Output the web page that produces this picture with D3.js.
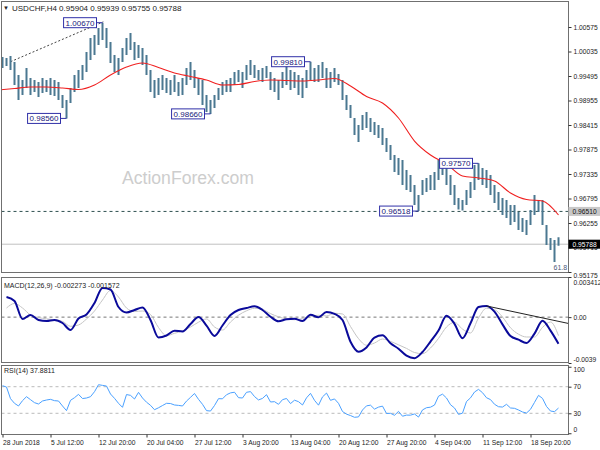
<!DOCTYPE html>
<html><head><meta charset="utf-8">
<script src="https://cdn.jsdelivr.net/npm/d3@7"></script>
<style>body{margin:0;background:#fff}svg{display:block}text{font-family:"Liberation Sans",Arial,sans-serif}</style>
</head><body><svg id="c" width="600" height="450"></svg>
<script>
// ---------- DATA ----------
const symbolTitle = "USDCHF,H4 0.95904 0.95939 0.95755 0.95788";
const macdTitle = "MACD(12,26,9) -0.002273 -0.001572";
const rsiTitle = "RSI(14) 37.8811";
const watermark = "ActionForex.com";

const highs = [
0.99914,0.99892,0.99936,0.99804,0.99517,0.99407,0.99671,0.9945,0.99407,0.99362,
0.9945,0.99407,0.9945,0.99407,0.99362,0.99076,0.98966,0.9923,0.99517,0.99627,
0.99738,1.00024,1.00333,1.00399,1.00553,1.0067,1.00553,1.00244,0.99958,0.99892,
1.00112,1.00333,1.00443,1.00244,1.00178,1.00112,0.99958,0.99627,0.99407,0.9945,
0.99517,0.9945,0.99407,0.99517,0.99362,0.9945,0.99671,0.99804,0.99627,0.9945,
0.99407,0.99076,0.98966,0.99076,0.9923,0.99362,0.99407,0.9945,0.99583,0.99627,
0.99583,0.99738,0.99848,0.99738,0.99627,0.99671,0.99716,0.99583,0.9945,0.99407,
0.99583,0.99738,0.99627,0.99583,0.99517,0.9945,0.99627,0.9981,0.99671,0.99738,
0.99804,0.99671,0.99583,0.99671,0.99539,0.99407,0.99076,0.98856,0.98569,0.98415,
0.98635,0.98702,0.98569,0.98481,0.98415,0.98349,0.98128,0.97974,0.97754,0.97688,
0.97644,0.97423,0.97313,0.97093,0.96872,0.97203,0.97247,0.97313,0.97379,0.97644,
0.97533,0.97467,0.97313,0.97093,0.96806,0.96762,0.96982,0.97159,0.97533,0.9757,
0.97467,0.97423,0.97313,0.97093,0.96938,0.96806,0.96762,0.96652,0.96652,0.96498,
0.96365,0.96321,0.96542,0.96872,0.96762,0.96762,0.96211,0.95925,0.9588,0.95939];

const lows = [
0.99671,0.99716,0.99627,0.99297,0.98966,0.99076,0.9923,0.99076,0.99142,0.99032,
0.9912,0.99142,0.99076,0.99054,0.98966,0.9879,0.9856,0.989,0.99142,0.9923,
0.99407,0.99583,0.99848,0.99958,1.00178,1.00289,1.00112,0.99782,0.99583,0.99517,
0.99804,0.99958,1.00068,0.99848,0.99892,0.99738,0.99517,0.99142,0.9901,0.99076,
0.99186,0.9912,0.99076,0.99142,0.99054,0.99076,0.99297,0.99407,0.9923,0.99076,
0.98856,0.987,0.9866,0.9879,0.98966,0.99076,0.99142,0.99142,0.99297,0.99362,
0.9923,0.99407,0.99517,0.9945,0.99407,0.99362,0.9945,0.99186,0.99142,0.98966,
0.9923,0.99297,0.99186,0.9923,0.99076,0.9901,0.9923,0.99407,0.99362,0.99362,
0.9945,0.9923,0.9923,0.99362,0.99297,0.98966,0.98746,0.98569,0.98195,0.9804,
0.98305,0.98349,0.98261,0.98195,0.98128,0.97974,0.9782,0.97644,0.97379,0.97313,
0.97093,0.96982,0.96938,0.96652,0.96518,0.96872,0.96938,0.96982,0.96982,0.97203,
0.97313,0.97093,0.96872,0.96652,0.9655,0.9653,0.96652,0.96806,0.96982,0.97203,
0.97093,0.97027,0.96872,0.96696,0.96542,0.96431,0.96365,0.96211,0.96277,0.96101,
0.96057,0.95991,0.96211,0.96431,0.96498,0.96211,0.9577,0.9566,0.95395,0.95755];

// moving average, one value every 4 bars starting at bar -1
const maValues = [0.99187,0.99219,0.99253,0.99253,0.99231,0.99197,0.99297,0.99517,0.99693,0.99782,
0.99682,0.99561,0.99484,0.99407,0.99297,0.99308,0.99374,0.99407,0.99396,0.99385,
0.99407,0.9944,0.99275,0.99043,0.989,0.98569,0.98062,0.97754,0.97555,0.97291,
0.97247,0.97181,0.96916,0.96773,0.9674,0.96431];

// MACD main & signal, one value every 2 bars (bars 1,3,...,139)
const macdMain = [0.001711,0.001371,-0.000159,0.000181,-0.000244,-0.000329,-0.000244,-0.000499,-0.001094,-0.000117,
0.000223,0.001201,0.002477,0.002349,0.000861,0.000394,0.000606,0.000819,-0.000244,-0.001732,
-0.001562,-0.001154,-0.001222,-0.000584,0.000011,-0.00072,-0.001604,-0.000712,0.000181,0.000606,
0.000776,0.000921,0.000606,0.000036,-0.000355,-0.000185,-0.000142,-0.000329,0.000206,-0.000015,
0.000436,0.000283,-0.000244,-0.002089,-0.002939,-0.002574,-0.00174,-0.001545,-0.002225,-0.002684,
-0.003279,-0.003492,-0.002965,-0.002081,-0.001137,0.000121,-0.000567,-0.001792,-0.000525,0.000861,
0.000955,0.00047,-0.000618,-0.001613,-0.001919,-0.0022,-0.0014,-0.000312,-0.001145,-0.002273];
const macdSignal = [0.000776,0.001159,0.000776,0.000181,-0.00004,-0.000142,-0.000236,-0.000363,-0.00078,-0.000669,
-0.000159,0.000521,0.001456,0.002264,0.001711,0.000776,0.000479,0.000521,0.000223,-0.000882,
-0.001579,-0.001375,-0.001179,-0.000839,-0.000431,-0.000159,-0.000839,-0.001094,-0.000414,0.000164,
0.000538,0.000751,0.000657,0.0003,0.000028,-0.000159,-0.000219,-0.000117,0.00007,0.000155,
0.000104,0.000325,0.000266,-0.000797,-0.001826,-0.002387,-0.0022,-0.00186,-0.002064,-0.002353,
-0.002659,-0.003007,-0.003109,-0.002625,-0.001809,-0.000839,-0.00044,-0.001018,-0.001349,-0.000074,
0.000759,0.00064,0.000011,-0.000907,-0.001451,-0.001689,-0.001689,-0.000873,-0.000414,-0.001572];

const rsiValues = [71.5,69.5,52,45,41,49,55,50.5,46,44,
48.5,50,51,49,48.5,41,34,49.5,53.5,58.5,
52.2,53,55,62.5,73,72,71,59,52.5,45,
39,58.2,57,51.5,61.5,53,46.7,42,35.4,38.3,
41.7,45,44.7,42.5,41.9,41,48.4,54,59.8,51,
43.5,34,33.4,41.7,52,51.8,57.9,60.7,61.7,53.5,
53,61.6,62.6,55.2,50.1,52.4,58,47,47.5,43.5,
50.5,52.3,44.6,49.7,47.5,42.5,53.2,60,49.5,42.2,
54.7,60.4,49.5,51.6,45,32.7,28.7,26.6,24,24.6,
35,41.2,42.2,36.3,39.3,40.8,29.7,30,27,32.9,
25.6,27.3,27.2,29,24.3,35.1,38.4,39.2,42.4,55.7,
58.8,53,42.9,38,28.4,30.2,47.7,53.2,62,66,
61,53.4,50.6,43.6,39.9,39.4,43.5,38,37.5,35,
32,30.4,36,46.4,57,52.4,40.3,33.4,32.5,37.88];

const timeLabels = ["28 Jun 2018","5 Jul 12:00","12 Jul 20:00","20 Jul 04:00","27 Jul 12:00","3 Aug 20:00",
"13 Aug 04:00","20 Aug 12:00","27 Aug 20:00","4 Sep 04:00","11 Sep 12:00","18 Sep 20:00"];
const timeLabelBars = [0,12,24,36,48,60,72,84,96,108,120,132];
const priceTicks = [1.00575,1.00035,0.99495,0.98955,0.98415,0.97875,0.97335,0.96795,0.96255,0.95715,0.95175];
const macdTicks = [0.003412,0,-0.0039];
const macdTickText = ["0.003412","0.00","-0.0039"];
const rsiTicks = [100,70,30,0];
const rsiLevels = [70,30];

const swingBars = [25,16,52,77,119,104];
const swingValues = [1.0067,0.9856,0.9866,0.9981,0.9757,0.96518];
const swingText = ["1.00670","0.98560","0.98660","0.99810","0.97570","0.96518"];

const levelValue = 0.9651, levelText = "0.96510";
const lastValue = 0.95788, lastText = "0.95788";
const trendBars = [2,25.2], trendValues = [0.9981,1.0069];
const macdTrendBars = [121,141.5], macdTrendValues = [0.00095,-0.00054];
const fibBar = 138, fibValue = 0.95395, fibText = "61.8";

// ---------- LAYOUT ----------
const svg = d3.select("#c");
const L = 1.5, R = 568.5;
const P = {main:[1.5,272.5], macd:[277.5,362.5], rsi:[365.5,434.5]};
const x = d3.scaleLinear().domain([0,139]).range([2.5,558.5]);
const yP = d3.scaleLinear().domain([0.95175,1.00575]).range([272,27]);
const yM = d3.scaleLinear().domain([-0.0039,0.003412]).range([363,277]);
const yR = d3.scaleLinear().domain([0,100]).range([433.25,366.75]);
const FS = 8, FSS = 7, FSA = 6.7;

const defs = svg.append("defs");
Object.entries(P).forEach(([k,[t,b]])=>{
  defs.append("clipPath").attr("id","clip-"+k).append("rect").attr("x",L).attr("y",t).attr("width",R-L).attr("height",b-t);
});

// watermark
svg.append("text").attr("x",122).attr("y",184).attr("font-size",17.6).attr("fill","#cdcdcd").text(watermark);

// ---------- MAIN PANEL ----------
const gm = svg.append("g").attr("clip-path","url(#clip-main)");
gm.append("line").attr("x1",L).attr("x2",R).attr("y1",yP(levelValue)).attr("y2",yP(levelValue))
  .attr("stroke","#2f5050").attr("stroke-dasharray","3,3");
gm.append("line").attr("x1",L).attr("x2",R).attr("y1",yP(lastValue)).attr("y2",yP(lastValue))
  .attr("stroke","#c0c0c0");
gm.append("line").attr("x1",x(trendBars[0])).attr("x2",x(trendBars[1]))
  .attr("y1",yP(trendValues[0])).attr("y2",yP(trendValues[1]))
  .attr("stroke","#444").attr("stroke-dasharray","2,2");

gm.selectAll("line.bar").data(highs).join("line").attr("class","bar")
  .attr("x1",(d,i)=>x(i)).attr("x2",(d,i)=>x(i))
  .attr("y1",d=>yP(d)).attr("y2",(d,i)=>yP(lows[i]))
  .attr("stroke","#4b7891").attr("stroke-width",2);

const maLine = d3.line().x(d=>x(d.i)).y(d=>yP(d.v)).curve(d3.curveMonotoneX);
gm.append("path").datum(maValues.map((v,k)=>({i:-1+4*k,v})))
  .attr("d",maLine).attr("fill","none").attr("stroke","#f02020").attr("stroke-width",1.1);

// swing labels
swingBars.forEach((b,k)=>{
  const yy = yP(swingValues[k]);
  const g = gm.append("g");
  const t = g.append("text").attr("font-size",FS).attr("fill","#20207a").attr("dominant-baseline","central").text(swingText[k]);
  const w = t.node().getComputedTextLength();
  const xr = x(b) - 6;
  t.attr("x",xr-w-2).attr("y",yy+0.5);
  g.insert("rect","text").attr("x",xr-w-4).attr("y",yy-5).attr("width",w+4).attr("height",10)
    .attr("fill","#fff").attr("stroke","#3030a8");
  g.append("line").attr("x1",xr).attr("x2",x(b)).attr("y1",yy).attr("y2",yy).attr("stroke","#3030a8");
});
svg.append("text").attr("x",x(fibBar)-1).attr("y",yP(fibValue)+7.5).attr("font-size",FSS).attr("fill","#4a5878").text(fibText);

// title
svg.append("text").attr("x",3).attr("y",10).attr("font-size",6).attr("fill","#222").text("\u25BC");
svg.append("text").attr("x",12).attr("y",10.5).attr("font-size",FS).attr("fill","#222").text(symbolTitle);

// ---------- MACD PANEL ----------
const gd = svg.append("g").attr("clip-path","url(#clip-macd)");
gd.append("line").attr("x1",L).attr("x2",R).attr("y1",yM(0)).attr("y2",yM(0))
  .attr("stroke","#777").attr("stroke-dasharray","3,3");
const mLine = d3.line().x(d=>x(d.i)).y(d=>yM(d.v)).curve(d3.curveMonotoneX);
gd.append("path").datum(macdSignal.map((v,k)=>({i:2*k+1,v}))).attr("d",mLine)
  .attr("fill","none").attr("stroke","#c4c4c4").attr("stroke-width",1);
gd.append("path").datum(macdMain.map((v,k)=>({i:2*k+1,v}))).attr("d",mLine)
  .attr("fill","none").attr("stroke","#0a0a9a").attr("stroke-width",2);
gd.append("line").attr("x1",x(macdTrendBars[0])).attr("x2",x(macdTrendBars[1]))
  .attr("y1",yM(macdTrendValues[0])).attr("y2",yM(macdTrendValues[1])).attr("stroke","#222");
svg.append("text").attr("x",4).attr("y",287.5).attr("font-size",FSS).attr("fill","#222").text(macdTitle);

// ---------- RSI PANEL ----------
const gr = svg.append("g").attr("clip-path","url(#clip-rsi)");
rsiLevels.forEach(v=>gr.append("line").attr("x1",L).attr("x2",R).attr("y1",yR(v)).attr("y2",yR(v))
  .attr("stroke","#bbb").attr("stroke-dasharray","3,3"));
gr.append("path").datum(rsiValues).attr("d",d3.line().x((d,i)=>x(i)).y(d=>yR(d)))
  .attr("fill","none").attr("stroke","#4aa0ff").attr("stroke-width",1);
svg.append("text").attr("x",4).attr("y",373).attr("font-size",FSS).attr("fill","#222").text(rsiTitle);

// ---------- FRAMES ----------
Object.values(P).forEach(([t,b])=>{
  svg.append("rect").attr("x",L).attr("y",t).attr("width",R-L).attr("height",b-t)
    .attr("fill","none").attr("stroke","#707070");
});

// ---------- AXES ----------
const axP = svg.append("g").attr("transform",`translate(${R},0)`)
  .call(d3.axisRight(yP).tickValues(priceTicks).tickFormat(d3.format(".5f")).tickSize(3).tickPadding(2));
const axM = svg.append("g").attr("transform",`translate(${R},0)`)
  .call(d3.axisRight(yM).tickValues(macdTicks).tickFormat((d,i)=>macdTickText[i]).tickSize(3).tickPadding(2));
const axR = svg.append("g").attr("transform",`translate(${R},0)`)
  .call(d3.axisRight(yR).tickValues(rsiTicks).tickSize(3).tickPadding(2));
const axX = svg.append("g").attr("transform",`translate(0,${P.rsi[1]})`)
  .call(d3.axisBottom(x).tickValues(timeLabelBars).tickFormat((d,i)=>timeLabels[i]).tickSize(3).tickPadding(2));
[axP,axM,axR,axX].forEach(a=>{
  a.select(".domain").remove();
  a.selectAll("text").attr("font-size",FSA).attr("fill","#222").attr("font-family","Liberation Sans, Arial, sans-serif");
  a.selectAll("line").attr("stroke","#333");
});
axX.selectAll("text").attr("text-anchor","start").attr("dy","0.8em");
axP.selectAll(".tick").filter(d=>d===0.95175).select("text").attr("dy","0.75em");
axM.selectAll(".tick").filter(d=>d===0.003412).select("text").attr("dy","1.1em");
axM.selectAll(".tick").filter(d=>d===-0.0039).select("text").attr("dy","-0.25em");
axR.selectAll(".tick").filter(d=>d===100).select("text").attr("dy","0.75em");
axR.selectAll(".tick").filter(d=>d===0).select("text").attr("dy","-0.2em");

// right-side value tags
function tag(v,txt,bg,fg){
  const g = svg.append("g");
  g.append("rect").attr("x",R).attr("y",yP(v)-4.5).attr("width",600-R).attr("height",9).attr("fill",bg);
  g.append("text").attr("x",R+4).attr("y",yP(v)+0.5).attr("dominant-baseline","central")
    .attr("font-size",FSA).attr("fill",fg).text(txt);
}
tag(levelValue,levelText,"#c8c8c8","#111");
tag(lastValue,lastText,"#000","#fff");
</script></body></html>
